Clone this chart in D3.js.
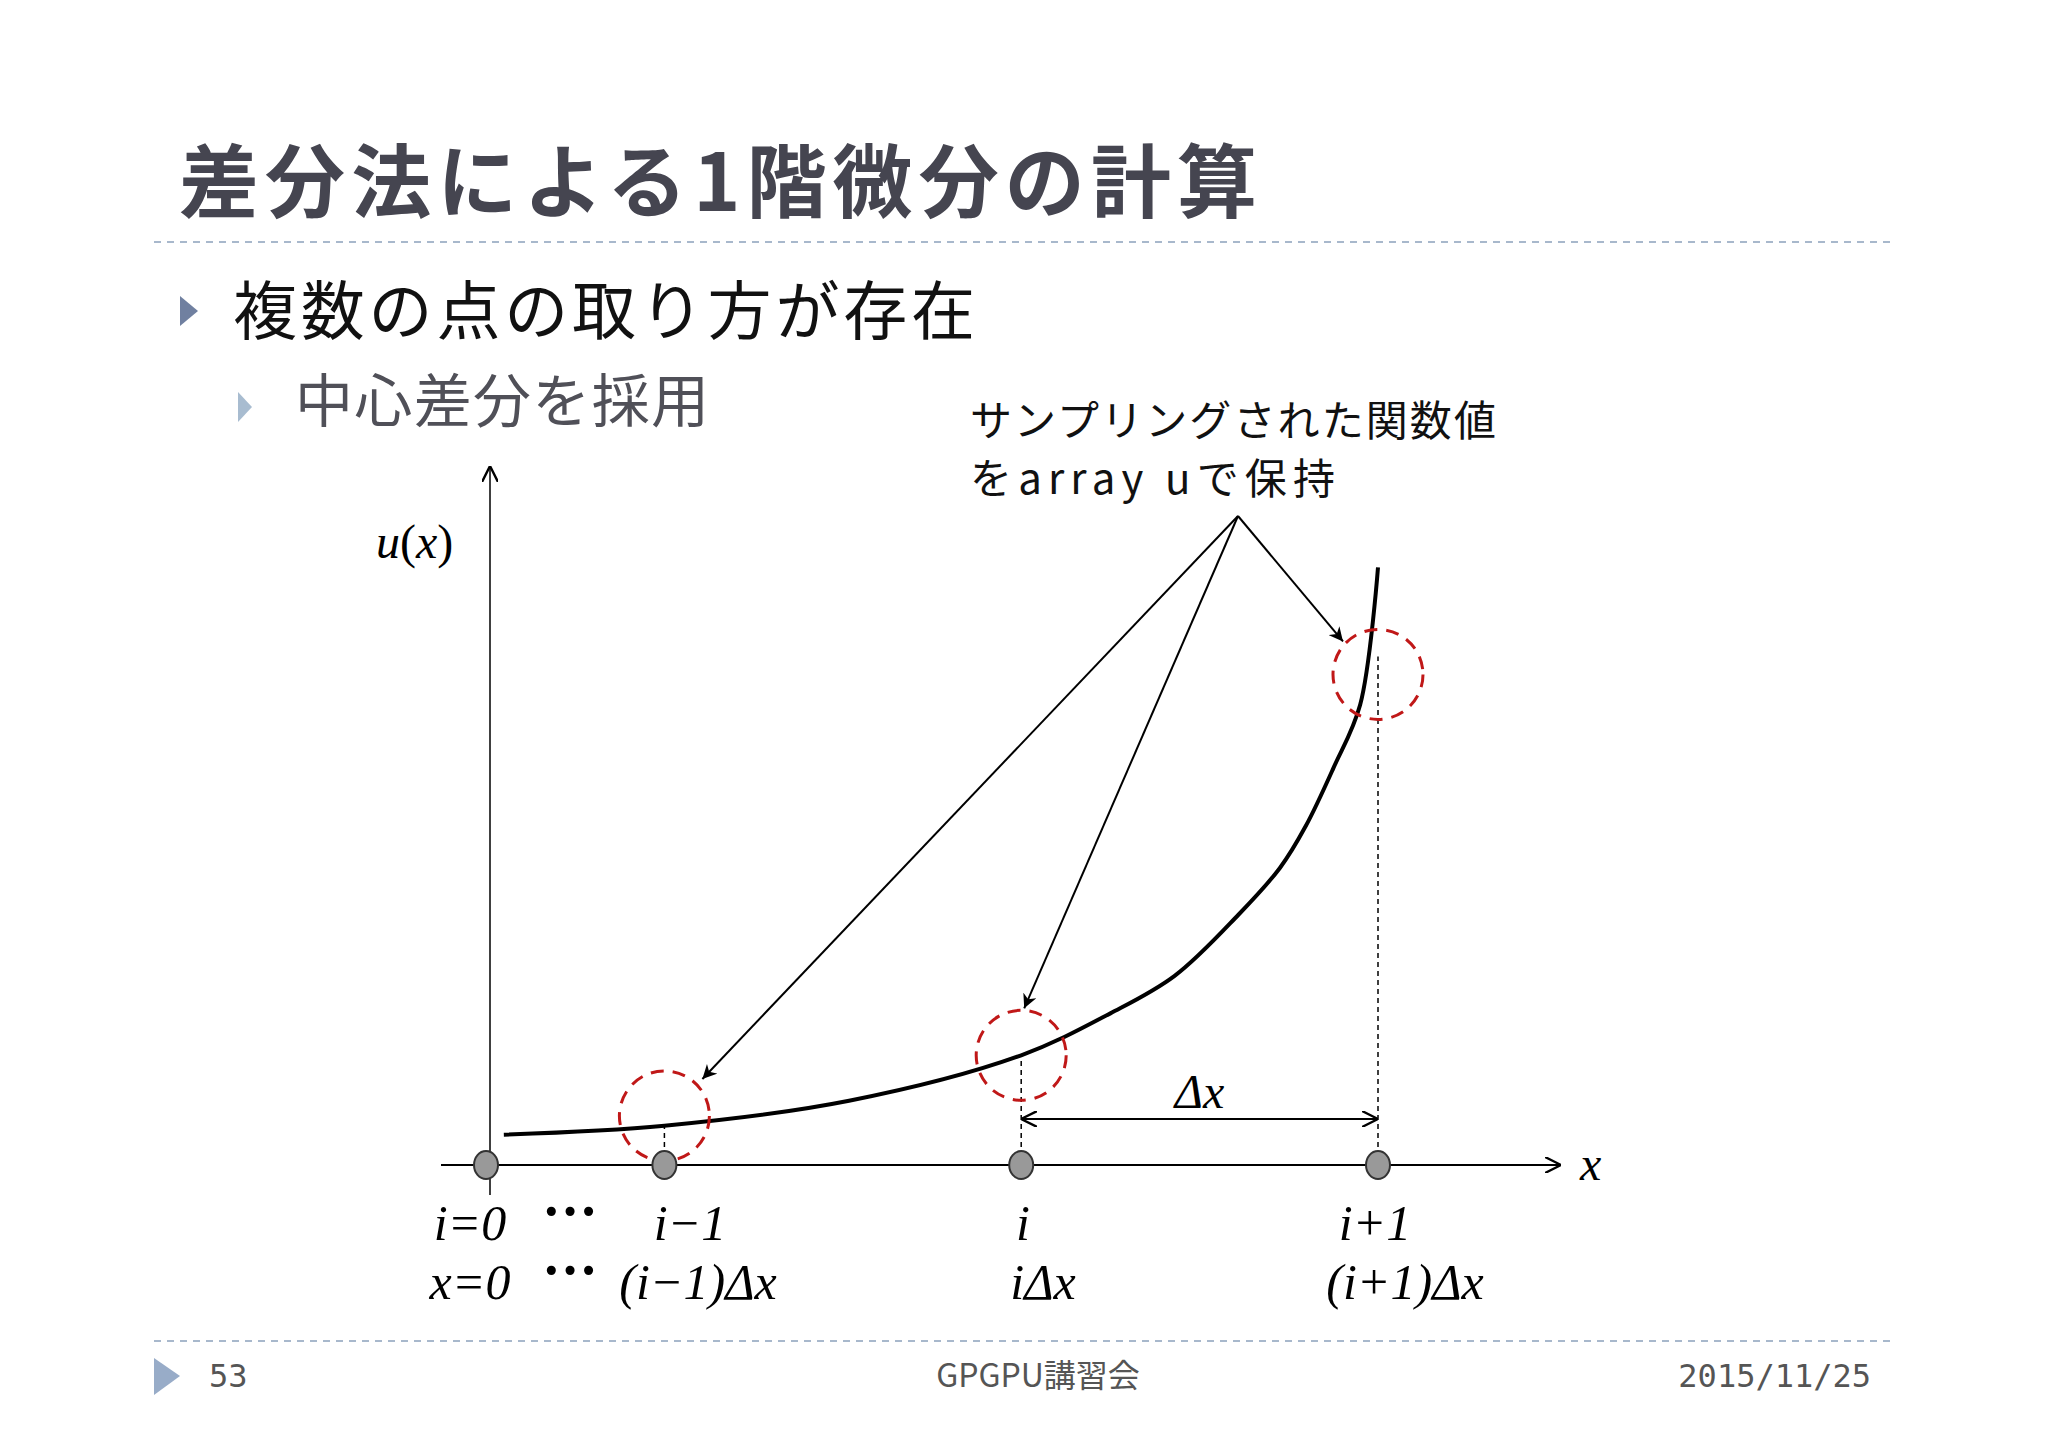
<!DOCTYPE html><html><head><meta charset="utf-8">
<script src="https://cdn.jsdelivr.net/npm/d3@7"></script>
<style>body{margin:0;background:#fff}</style></head><body>
<svg id="c" width="2048" height="1448"></svg>
<script>
const samplePos=[0,2,6,10];
const rowI=["i=0","i−1","i","i+1"];
const rowX=["x=0","(i−1)Δx","iΔx","(i+1)Δx"];
const curveX=[0.2,2.0,4.07,6.0,7.0,7.72,8.43,8.9,9.19,9.5,9.8,10.0];
const curveY=[0.34,0.44,0.72,1.23,1.70,2.12,2.80,3.33,3.80,4.45,5.16,6.70];
const markY=[0.55,1.23,5.5];
const svg=d3.select("#c");
const x=d3.scaleLinear().domain([0,10]).range([486,1378]);
const y=d3.scaleLinear().domain([0,10]).range([1165,273]);
const sans="'Noto Sans CJK JP','Noto Sans',sans-serif", serif="'Liberation Serif',serif";
const defs=svg.append("defs");
defs.append("marker").attr("id","ah").attr("viewBox","0 0 10 10").attr("refX",10).attr("refY",5).attr("markerWidth",14).attr("markerHeight",14).attr("markerUnits","userSpaceOnUse").attr("orient","auto")
 .append("path").attr("d","M0,0L10,5L0,10L3,5Z").attr("fill","#000");
defs.append("marker").attr("id","oh").attr("viewBox","0 0 10 10").attr("refX",10).attr("refY",5).attr("markerWidth",16).attr("markerHeight",16).attr("markerUnits","userSpaceOnUse").attr("orient","auto-start-reverse")
 .append("path").attr("d","M0,0L10,5L0,10").attr("fill","none").attr("stroke","#000").attr("stroke-width",1.5);
svg.append("text").attr("x",179).attr("y",211).attr("font-family",sans).attr("font-weight",700).attr("font-size",80).attr("fill","#454550").attr("textLength",1078).text("差分法による1階微分の計算");
const dash=(yy)=>svg.append("line").attr("x1",154).attr("x2",1891).attr("y1",yy).attr("y2",yy).attr("stroke","#a8b8cc").attr("stroke-width",2).attr("stroke-dasharray","7,6");
dash(242);dash(1341);
svg.append("path").attr("d","M180,296L198,311L180,326Z").attr("fill","#7080a0");
svg.append("text").attr("x",233).attr("y",334).attr("font-family",sans).attr("font-size",64).attr("fill","#111").attr("textLength",742).text("複数の点の取り方が存在");
svg.append("path").attr("d","M238,392L252,407L238,422Z").attr("fill","#a8bcd0");
svg.append("text").attr("x",295).attr("y",422).attr("font-family",sans).attr("font-size",58).attr("fill","#505058").attr("textLength",414).text("中心差分を採用");
svg.append("text").attr("x",970).attr("y",436).attr("font-family",sans).attr("font-size",42).attr("fill","#111").attr("textLength",526).text("サンプリングされた関数値");
svg.append("text").attr("x",970).attr("y",494).attr("font-family",sans).attr("font-size",42).attr("fill","#111").attr("textLength",365).text("をarray uで保持");
svg.append("line").attr("x1",490).attr("x2",490).attr("y1",1195).attr("y2",466).attr("stroke","#000").attr("stroke-width",1.5).attr("marker-end","url(#oh)");
svg.append("line").attr("x1",441).attr("x2",1561).attr("y1",1165).attr("y2",1165).attr("stroke","#000").attr("stroke-width",1.8).attr("marker-end","url(#oh)");
svg.append("text").attr("x",376).attr("y",558).attr("font-family",serif).attr("font-size",48).attr("font-style","italic").html("u<tspan font-style='normal'>(</tspan>x<tspan font-style='normal'>)</tspan>");
svg.append("text").attr("x",1580).attr("y",1180).attr("font-family",serif).attr("font-size",48).attr("font-style","italic").text("x");
const vy=[y(0.44),y(1.23),y(5.7)];
samplePos.slice(1).forEach((p,k)=>svg.append("line").attr("x1",x(p)).attr("x2",x(p)).attr("y1",1165).attr("y2",vy[k]).attr("stroke","#000").attr("stroke-width",1.5).attr("stroke-dasharray","5,4"));
svg.append("path").datum(curveX.map((d,i)=>[d,curveY[i]])).attr("d",d3.line().x(d=>x(d[0])).y(d=>y(d[1])).curve(d3.curveCatmullRom))
 .attr("fill","none").attr("stroke","#000").attr("stroke-width",4);
samplePos.slice(1).forEach((p,k)=>svg.append("circle").attr("cx",x(p)).attr("cy",y(markY[k])).attr("r",45).attr("fill","none").attr("stroke","#c01818").attr("stroke-width",3).attr("stroke-dasharray","13,9"));
samplePos.forEach(p=>svg.append("ellipse").attr("cx",x(p)).attr("cy",1165).attr("rx",12).attr("ry",14).attr("fill","#999").attr("stroke","#333").attr("stroke-width",2));
const o=[1238,516];
const ends=[[x(2)+38,y(markY[0])-37],[x(6)+3,y(markY[1])-47],[x(10)-35,y(markY[2])-33]];
ends.forEach(e=>svg.append("line").attr("x1",o[0]).attr("y1",o[1]).attr("x2",e[0]).attr("y2",e[1]).attr("stroke","#000").attr("stroke-width",2).attr("marker-end","url(#ah)"));
svg.append("line").attr("x1",x(6)).attr("x2",x(10)).attr("y1",1119).attr("y2",1119).attr("stroke","#000").attr("stroke-width",2).attr("marker-start","url(#oh)").attr("marker-end","url(#oh)");
svg.append("text").attr("x",(x(6)+x(10))/2).attr("y",1108).attr("text-anchor","middle").attr("font-family",serif).attr("font-size",48).attr("font-style","italic").text("Δx");
const lx=[470,690,1023,1375];
rowI.forEach((t,k)=>svg.append("text").attr("x",lx[k]).attr("y",1240).attr("text-anchor","middle").attr("font-family",serif).attr("font-size",50).attr("font-style","italic").text(t));
rowX.forEach((t,k)=>svg.append("text").attr("x",lx[k]+(k==1?8:k==3?30:k==2?20:0)).attr("y",1299).attr("text-anchor","middle").attr("font-family",serif).attr("font-size",50).attr("font-style","italic").text(t));
[1240,1299].forEach(yy=>svg.append("text").attr("x",570).attr("y",yy-10).attr("text-anchor","middle").attr("font-family",serif).attr("font-size",56).attr("font-weight",700).text("···"));
svg.append("path").attr("d","M154,1358L180,1376L154,1395Z").attr("fill","#98acc8");
svg.append("text").attr("x",209).attr("y",1387).attr("font-family","'DejaVu Sans Mono',monospace").attr("font-size",32).attr("fill","#555").text("53");
svg.append("text").attr("x",1038).attr("y",1387).attr("text-anchor","middle").attr("font-family",sans).attr("font-size",32).attr("fill","#555").text("GPGPU講習会");
svg.append("text").attr("x",1871).attr("y",1387).attr("text-anchor","end").attr("font-family","'DejaVu Sans Mono',monospace").attr("font-size",32).attr("fill","#555").text("2015/11/25");
</script></body></html>
